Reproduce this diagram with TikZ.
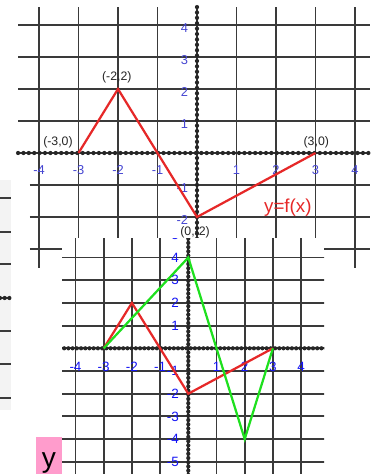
\documentclass[tikz,border=0pt]{standalone}
\usepackage{fontspec}
\setmainfont{Liberation Sans}
\setsansfont{Liberation Sans}
\usetikzlibrary{calc}
\definecolor{cred}{HTML}{E62828}
\definecolor{cgreen}{HTML}{1EE01E}
\definecolor{cblue}{HTML}{4646D2}
\definecolor{cdblue}{HTML}{1414F5}
\definecolor{cgrid}{HTML}{3A3A3A}
\definecolor{cpink}{HTML}{FF9CCC}
\definecolor{cstrip}{HTML}{F3F3F3}
\tikzset{
  every picture/.style={font=\sffamily},
  gridline/.style={draw=cgrid, line width=#1},
  gridline/.default=1.25pt,
  axisline/.style={draw=black!80, line width=1.5pt},
  beads/.style={draw=black!85, line width=3.6pt, line cap=round, dash pattern=on 0pt off #1},
  curve/.style={draw=#1, line width=1.9pt, line join=miter},
  tnum/.style={text=cblue, font=\sffamily\fontsize{11}{11}\selectfont, inner sep=0pt},
  bnum/.style={text=cdblue, font=\sffamily\fontsize{11.5}{12}\selectfont, inner sep=0pt},
  ptlabel/.style={text=black!85, font=\sffamily\fontsize{10.5}{11}\selectfont, inner sep=0pt},
}

\begin{document}
\begin{tikzpicture}[x=0.03cm, y=-0.03cm]
  \useasboundingbox (0,0) rectangle (379,474);
  \fill[white] (0,0) rectangle (379,474);
  % edge of the next picture on the left
  \fill[cstrip] (0,180) rectangle (11,410);
  \foreach \yy in {198,232,264,331,364,398} \draw[gridline] (0,\yy) -- (11,\yy);
  \draw[axisline] (0,298) -- (11,298);
  \draw[beads=4pt] (0,298) -- (11,298);

  % upper graph: y = f(x)
  \begin{scope}[shift={(197,153)}, x=1.185cm, y=0.96cm]
    \foreach \x in {-4,...,4} \draw[gridline] (\x,4.56) -- (\x,-3.6);
    \foreach \y in {1,...,4} \draw[gridline] (-4.53,\y) -- (4.38,\y);
    \foreach \y in {-1,-2,-3} \draw[gridline] (-4.23,\y) -- (4.38,\y);
    \draw[axisline] (-4.53,0) -- (4.38,0);
    \draw[beads=4.6pt] (-4.53,0) -- (4.38,0);
    \draw[axisline] (0,4.56) -- (0,-3.6);
    \draw[beads=4.6pt] (0,4.56) -- (0,-3.6);
    \foreach \x in {-4,...,-1,1,2,3,4} \node[tnum] (tx\x) at (\x,-0.53) {\x};
    \foreach \y in {-2,-1,1,2,3,4} \node[tnum, anchor=east] (ty\y) at (-0.22,\y-0.1) {\y};
    \coordinate (ta) at (-3,0);
    \coordinate (tb) at (-2,2);
    \coordinate (tc) at (-1,0);
    \coordinate (td) at (0,-2);
    \coordinate (te) at (3,0);
    \draw[curve=cred] (ta) -- (tb) -- (tc) -- (td) -- (te);
    \node[ptlabel] (lb) at (-2.03,2.38) {(-2,2)};
    \node[ptlabel] (la) at (-3.52,0.34) {(-3,0)};
    \node[ptlabel] (le) at (3.02,0.34) {(3,0)};
    \node[ptlabel] (ld) at (-0.05,-2.47) {(0,-2)};
    \node[text=cred, font=\sffamily\fontsize{16}{16}\selectfont, inner sep=0pt] (fname) at (2.3,-1.7) {y=f(x)};
  \end{scope}

  % lower graph pasted on top
  \begin{scope}
    \clip (62,238) rectangle (324,474);
    \fill[white] (62,238) rectangle (324,474);
    \begin{scope}[shift={(188.3,348.3)}, x=0.846cm, y=0.681cm]
      \foreach \x in {-5,...,5} \draw[gridline=1.7pt] (\x,5.2) -- (\x,-6);
      \foreach \y in {-6,...,5} \draw[gridline=1.7pt] (-5,\y) -- (5,\y);
      \draw[axisline] (-5,0) -- (5,0);
      \draw[beads=3.6pt] (-5,0) -- (5,0);
      \draw[axisline] (0,5.2) -- (0,-6);
      \draw[beads=3.6pt] (0,5.2) -- (0,-6);
      \foreach \x in {-4,...,-1,1,2,3,4} \node[bnum] (bx\x) at (\x,-0.82) {\x};
      \foreach \y in {-5,...,-1,1,2,3,4,5} \node[bnum, anchor=east] (by\y) at (-0.33,\y) {\y};
      \coordinate (ba) at (-3,0);
      \coordinate (bb) at (-2,2);
      \coordinate (bc) at (-1,0);
      \coordinate (bd) at (0,-2);
      \coordinate (be) at (3,0);
      \coordinate (gb) at (0,4);
      \coordinate (gc) at (2,-4);
      \draw[curve=cred] (ba) -- (bb) -- (bc) -- (bd) -- (be);
      \draw[curve=cgreen] (ba) -- (gb) -- (gc) -- (be);
    \end{scope}
  \end{scope}

  % pink tag
  \fill[cpink] (36,437) rectangle (62,474);
  \node[anchor=base, inner sep=0pt, font=\sffamily\fontsize{24}{24}\selectfont] (ytag) at (49,467) {y};
\end{tikzpicture}
\end{document}
